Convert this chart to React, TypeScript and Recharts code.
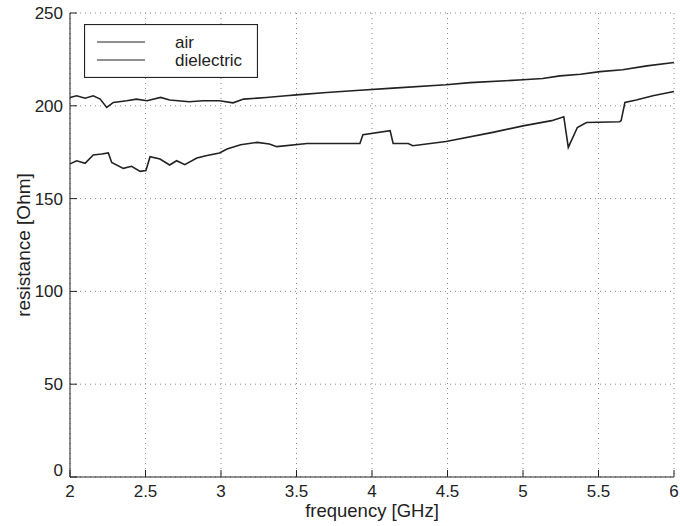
import { LineChart, Line, XAxis, YAxis, CartesianGrid, Legend } from 'recharts';

// frequency in GHz, resistance in Ohm
const airFreq = [2.0, 2.044, 2.1, 2.154, 2.2, 2.243, 2.287, 2.375, 2.44, 2.51, 2.6, 2.66, 2.79, 2.88, 2.99, 3.08, 3.15, 3.3, 3.43, 3.5, 3.7, 3.92, 4.14, 4.49, 4.65, 5.0, 5.13, 5.245, 5.38, 5.51, 5.66, 5.82, 6.0];
const airRes = [204.5, 205.4, 204.1, 205.4, 203.6, 199.1, 201.8, 202.7, 203.6, 202.7, 204.5, 203.1, 202.2, 202.7, 202.7, 201.6, 203.6, 204.5, 205.4, 205.9, 207.2, 208.4, 209.5, 211.3, 212.5, 214.0, 214.7, 216.1, 217.0, 218.4, 219.4, 221.5, 223.3];

const dielFreq = [2.0, 2.044, 2.1, 2.154, 2.21, 2.254, 2.276, 2.353, 2.408, 2.464, 2.503, 2.53, 2.596, 2.66, 2.706, 2.76, 2.84, 2.9, 2.99, 3.04, 3.13, 3.24, 3.32, 3.37, 3.57, 3.92, 3.94, 4.12, 4.14, 4.24, 4.27, 4.49, 4.8, 5.0, 5.19, 5.27, 5.3, 5.36, 5.42, 5.64, 5.65, 5.675, 5.75, 5.86, 6.0];
const dielRes = [168.7, 170.4, 169.0, 173.5, 174.0, 174.6, 169.5, 166.3, 167.4, 164.7, 165.1, 172.6, 171.3, 168.1, 170.4, 168.3, 171.9, 173.1, 174.6, 176.7, 179.0, 180.3, 179.4, 178.0, 179.7, 179.7, 184.4, 186.6, 179.7, 179.7, 178.5, 180.8, 185.7, 189.2, 192.0, 194.1, 177.6, 188.3, 191.0, 191.4, 192.0, 201.8, 203.1, 205.4, 207.7];

const xTicks = [2, 2.5, 3, 3.5, 4, 4.5, 5, 5.5, 6];
const yTicks = [0, 50, 100, 150, 200, 250];

const airData = airFreq.map((f, i) => ({ f, r: airRes[i] }));
const dielData = dielFreq.map((f, i) => ({ f, r: dielRes[i] }));

const ink = '#222';
const font = '"Liberation Sans", Arial, Helvetica, sans-serif';

const YTick = (props: any) => {
  const { x, y, payload } = props;
  // matlab nudges the bottom label up
  const shift = payload.value === 0 ? -7 : 0;
  return (
    <text x={x} y={y + shift} dy="0.355em" textAnchor="end" fill={ink} fontSize={17} fontFamily={font}>
      {payload.value}
    </text>
  );
};

const LegendBox = (props: any) => {
  const items = props.payload || [];
  return (
    <svg width={174} height={54} style={{ display: 'block' }}>
      <rect x={0.5} y={0.5} width={173} height={53} fill="#fff" stroke={ink} strokeWidth={1.2} />
      {items.map((it: any, i: number) => (
        <g key={it.value}>
          <line x1={13} x2={61} y1={18 + i * 18} y2={18 + i * 18} stroke={ink} strokeWidth={1.2} />
          <text x={91} y={18 + i * 18} dy="0.355em" fill={ink} fontSize={17} fontFamily={font}>
            {it.value}
          </text>
        </g>
      ))}
    </svg>
  );
};

export default function App() {
  return (
    <div style={{ position: 'absolute', left: 0, top: 0, width: 680, height: 526, background: '#fff', fontFamily: font }}>
      <LineChart width={680} height={526} margin={{ top: 13, right: 6, left: 10, bottom: 9 }}>
        <CartesianGrid strokeDasharray="1 4" stroke="#888" />
        <XAxis
          dataKey="f"
          type="number"
          domain={[2, 6]}
          ticks={xTicks}
          allowDuplicatedCategory={false}
          height={40}
          stroke={ink}
          tickSize={-7}
          tickMargin={15}
          tick={{ fill: ink, fontSize: 17, fontFamily: font }}
          label={{ value: 'frequency [GHz]', position: 'insideBottom', offset: 0, fill: ink, fontSize: 18.5, fontFamily: font }}
        />
        <XAxis xAxisId="top" orientation="top" type="number" domain={[2, 6]} ticks={xTicks} height={0} stroke={ink} tickSize={-7} tick={false} />
        <YAxis
          type="number"
          domain={[0, 250]}
          ticks={yTicks}
          width={60}
          stroke={ink}
          tickSize={-7}
          tickMargin={14}
          tick={<YTick />}
          label={{ value: 'resistance [Ohm]', angle: -90, position: 'insideLeft', offset: 13, fill: ink, fontSize: 19, fontFamily: font, style: { textAnchor: 'middle' } }}
        />
        <YAxis yAxisId="right" orientation="right" type="number" domain={[0, 250]} ticks={yTicks} width={0} stroke={ink} tickSize={-7} tick={false} />
        <Legend
          layout="horizontal"
          verticalAlign="middle"
          content={<LegendBox />}
          wrapperStyle={{ left: 84, top: 24, width: 174, height: 54 }}
        />
        <Line data={airData} dataKey="r" name="air" type="linear" stroke={ink} strokeWidth={1.6} dot={false} isAnimationActive={false} />
        <Line data={dielData} dataKey="r" name="dielectric" type="linear" stroke={ink} strokeWidth={1.6} dot={false} isAnimationActive={false} />
      </LineChart>
    </div>
  );
}
